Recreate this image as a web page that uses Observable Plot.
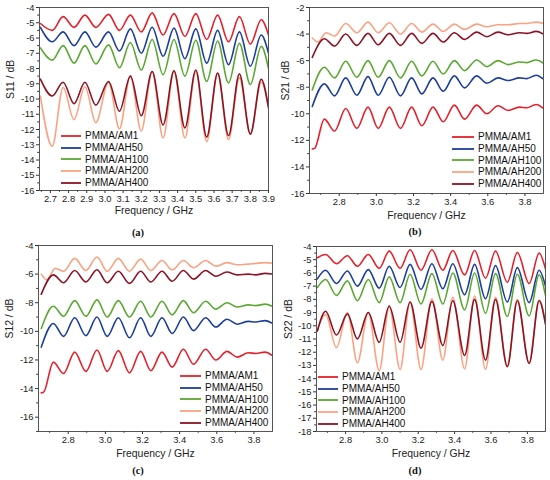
<!DOCTYPE html>
<html><head><meta charset="utf-8">
<script src="https://cdn.jsdelivr.net/npm/d3@7"></script>
<script src="https://cdn.jsdelivr.net/npm/@observablehq/plot@0.6"></script>
<style>
body{margin:0;background:#fff;}
#root{position:relative;width:550px;height:480px;overflow:hidden;font-family:"Liberation Sans",Arial,sans-serif;}
.pan{position:absolute;}
.leg{position:absolute;font-size:10px;color:#111;line-height:11.7px;}
.leg .row{display:flex;align-items:center;height:11.7px;white-space:nowrap;}
.leg svg{margin-right:4px;}
.cap{position:absolute;font-family:"Liberation Serif","DejaVu Serif",serif;font-weight:bold;font-size:10.5px;color:#111;transform:translate(-50%,-50%);}
</style></head>
<body><div id="root"></div>
<script>
// ---- series names & colours ----
const names = ["PMMA/AM1","PMMA/AH50","PMMA/AH100","PMMA/AH200","PMMA/AH400"];
const colors = ["#e5202b","#1d3d9c","#5aa832","#fba282","#8c1324"];

// ---- panel (a) S11 ----
const freqA = [2.645,2.71,2.77,2.83,2.89,2.95,3.02,3.08,3.14,3.2,3.26,3.32,3.38,3.44,3.5,3.56,3.62,3.68,3.74,3.8,3.86,3.9];
const a_AM1   = [-5.05,-5.5,-4.6,-5.3,-4.5,-5.3,-4.45,-5.5,-4.5,-5.6,-4.35,-5.8,-4.4,-5.9,-4.4,-6.1,-4.5,-6.25,-4.6,-6.4,-4.8,-5.8];
const a_AH50  = [-5.3,-6.25,-5.6,-6.5,-5.6,-6.6,-5.6,-6.85,-5.4,-7.0,-5.3,-7.2,-5.35,-7.35,-5.4,-7.65,-5.5,-7.75,-5.6,-7.85,-5.8,-7.0];
const a_AH100 = [-6.65,-7.45,-6.5,-7.65,-6.5,-7.7,-6.45,-7.95,-6.3,-8.1,-6.1,-8.4,-6.1,-8.5,-6.15,-8.85,-6.2,-8.95,-6.35,-9.05,-6.55,-8.0];
const a_AH200 = [-9.8,-13.1,-9.25,-11.35,-9.2,-11.55,-8.9,-11.95,-8.5,-12.1,-8.2,-12.55,-8.2,-12.55,-8.2,-12.8,-8.3,-12.65,-8.6,-12.3,-8.9,-10.5];
const a_AH400 = [-8.7,-9.8,-8.9,-10.3,-8.9,-10.4,-8.85,-10.8,-8.5,-11.1,-8.2,-11.7,-8.15,-11.9,-8.1,-12.5,-8.3,-12.4,-8.35,-12.3,-8.7,-10.6];

// ---- panels (b) S21 and (c) S12 ----
const freqBC = [2.655,2.72,2.775,2.835,2.895,2.955,3.01,3.07,3.13,3.19,3.245,3.305,3.36,3.42,3.475,3.54,3.595,3.655,3.71,3.77,3.81,3.86,3.9];
const freqBC1 = [2.655,2.668,2.72,2.775,2.835,2.895,2.955,3.01,3.07,3.13,3.19,3.245,3.305,3.36,3.42,3.475,3.54,3.595,3.655,3.71,3.77,3.81,3.86,3.9];
const freqBC200 = [2.655,2.685,2.73,2.775,2.835,2.895,2.955,3.01,3.07,3.13,3.19,3.245,3.305,3.36,3.42,3.475,3.54,3.595,3.655,3.71,3.77,3.81,3.86,3.9];
const b_AM1   = [-12.65,-12.6,-10.4,-11.3,-9.6,-11.1,-9.5,-11.1,-9.5,-11.1,-9.5,-10.9,-9.5,-10.6,-9.35,-10.4,-9.35,-10.0,-9.4,-9.75,-9.5,-9.55,-9.3,-9.6];
const b_AH50  = [-9.45,-7.75,-8.65,-7.3,-8.6,-7.2,-8.6,-7.25,-8.65,-7.3,-8.5,-7.3,-8.3,-7.15,-8.05,-7.15,-7.7,-7.3,-7.5,-7.3,-7.35,-7.1,-7.4];
const b_AH100 = [-8.2,-6.5,-7.3,-6.05,-7.25,-6.0,-7.25,-6.0,-7.3,-6.05,-7.15,-6.05,-7.0,-6.0,-6.75,-5.95,-6.45,-6.0,-6.3,-6.1,-6.15,-5.95,-6.2];
const b_AH200 = [-4.3,-4.6,-3.9,-4.15,-3.2,-3.9,-3.1,-3.9,-3.15,-4.0,-3.2,-3.85,-3.25,-3.8,-3.25,-3.65,-3.25,-3.45,-3.3,-3.3,-3.2,-3.2,-3.1,-3.2];
const b_AH400 = [-5.75,-4.35,-4.9,-4.0,-4.85,-3.95,-4.8,-3.95,-4.85,-3.95,-4.7,-3.95,-4.6,-3.9,-4.4,-3.85,-4.2,-3.85,-4.05,-3.9,-3.95,-3.8,-4.0];

const c_AM1   = [-14.3,-14.25,-12.15,-12.95,-11.45,-12.8,-11.3,-12.8,-11.35,-12.9,-11.4,-12.75,-11.45,-12.5,-11.25,-12.3,-11.25,-12.0,-11.4,-11.8,-11.5,-11.55,-11.45,-11.7];
const c_AH50  = [-11.1,-9.45,-10.35,-9.05,-10.3,-9.0,-10.35,-9.05,-10.45,-9.05,-10.35,-9.05,-10.15,-9.0,-9.95,-9.05,-9.7,-9.15,-9.5,-9.3,-9.35,-9.25,-9.45];
const c_AH100 = [-9.8,-8.25,-8.95,-7.85,-8.95,-7.8,-9.0,-7.85,-9.0,-7.9,-9.0,-7.9,-8.85,-7.85,-8.7,-7.9,-8.45,-8.0,-8.3,-8.15,-8.2,-8.1,-8.25];
const c_AH200 = [-6.0,-6.4,-5.6,-5.8,-4.9,-5.75,-4.8,-5.8,-4.9,-5.8,-4.95,-5.75,-5.05,-5.7,-5.05,-5.55,-5.05,-5.45,-5.2,-5.35,-5.3,-5.25,-5.2,-5.25];
const c_AH400 = [-7.4,-6.05,-6.6,-5.75,-6.55,-5.7,-6.6,-5.8,-6.65,-5.8,-6.55,-5.8,-6.5,-5.75,-6.35,-5.75,-6.15,-5.85,-6.05,-6.0,-6.05,-5.95,-6.0];

// ---- panel (d) S22 ----
const freqD = [2.645,2.69,2.75,2.81,2.865,2.925,2.985,3.04,3.1,3.155,3.215,3.275,3.335,3.39,3.455,3.51,3.57,3.625,3.69,3.745,3.81,3.865,3.9];
const d_AM1   = [-4.85,-4.6,-5.3,-4.7,-5.5,-4.6,-5.65,-4.35,-5.65,-4.25,-5.8,-4.25,-5.8,-4.3,-6.15,-4.3,-6.4,-4.35,-6.7,-4.45,-6.8,-4.5,-5.7];
const d_AH50  = [-6.45,-5.8,-6.8,-5.85,-7.0,-5.75,-7.15,-5.5,-7.1,-5.35,-7.25,-5.3,-7.2,-5.3,-7.65,-5.35,-7.95,-5.45,-8.2,-5.6,-8.25,-5.8,-7.0];
const d_AH100 = [-7.1,-6.5,-7.7,-6.6,-8.1,-6.5,-8.25,-6.3,-8.25,-6.1,-8.35,-6.05,-8.35,-6.0,-8.8,-6.0,-9.05,-6.05,-9.3,-6.1,-9.25,-6.15,-7.7];
const d_AH200 = [-10.3,-9.15,-11.65,-9.0,-12.8,-9.0,-13.4,-8.55,-13.3,-8.2,-13.3,-7.95,-12.6,-7.85,-13.25,-7.75,-13.3,-7.85,-13.0,-8.0,-12.8,-8.05,-9.8];
const d_AH400 = [-10.4,-8.9,-10.7,-9.1,-11.0,-9.0,-11.25,-8.5,-11.25,-8.2,-11.7,-8.15,-11.5,-8.1,-12.25,-8.0,-12.6,-8.0,-13.1,-8.1,-12.85,-8.1,-9.9];

// ---- tick labels ----
const xTicksA = [2.7,2.8,2.9,3.0,3.1,3.2,3.3,3.4,3.5,3.6,3.7,3.8,3.9];
const xTicks2 = [2.8,3.0,3.2,3.4,3.6,3.8];
const yTicksA = [-16,-15,-14,-13,-12,-11,-10,-9,-8,-7,-6,-5,-4];
const yTicksB = [-16,-14,-12,-10,-8,-6,-4,-2];
const yTicksC = [-16,-14,-12,-10,-8,-6,-4];
const yTicksD = [-18,-17,-16,-15,-14,-13,-12,-11,-10,-9,-8,-7,-6,-5,-4];

const FONT = '"Liberation Sans",Arial,sans-serif';
const root = document.getElementById("root");

function panel(cfg){
  const marks = [];
  marks.push(Plot.axisX(cfg.xminor,{tickSize:1.8,tickFormat:()=>"",label:null,stroke:"#333"}));
  marks.push(Plot.axisY(cfg.yminor,{tickSize:1.8,tickFormat:()=>"",label:null,stroke:"#333"}));
  marks.push(Plot.axisX(cfg.xticks,{tickSize:3,tickPadding:2,tickFormat:d=>d.toFixed(1),label:null,stroke:"#333",fill:"#222",fontSize:9.4}));
  marks.push(Plot.axisY(cfg.yticks,{tickSize:3,tickPadding:2,tickFormat:d=>String(d),label:null,stroke:"#333",fill:"#222",fontSize:9.4}));
  cfg.series.forEach((s,i)=>{
    const rows = s.f.map((f,j)=>({f, v:s.v[j]}));
    marks.push(Plot.line(rows,{x:"f",y:"v",stroke:colors[i],strokeWidth:1.6,curve:"monotone-x",clip:true}));
  });
  marks.push(Plot.frame({stroke:"#444",strokeWidth:0.9}));
  marks.push(Plot.text(["Frequency / GHz"],{text:d=>d,frameAnchor:"bottom",dy:cfg.xlabDy,fontSize:10.4,fill:"#222",fontFamily:FONT}));
  marks.push(Plot.text([cfg.ylabel],{text:d=>d,frameAnchor:"left",dx:cfg.ylabDx,rotate:-90,fontSize:10.4,fill:"#222",fontFamily:FONT}));
  const svg = Plot.plot({
    width:275,height:220,
    marginLeft:cfg.ml,marginRight:cfg.mr,marginTop:cfg.mt,marginBottom:cfg.mb,
    x:{domain:[2.64,3.9]},
    y:{domain:cfg.ydom},
    style:{fontFamily:FONT,fontSize:"9.4px",background:"white",color:"#222"},
    marks
  });
  const div = document.createElement("div");
  div.className="pan";
  div.style.left=cfg.left+"px"; div.style.top=cfg.top+"px";
  div.appendChild(svg);
  root.appendChild(div);
  // legend
  const leg = document.createElement("div");
  leg.className="leg";
  leg.style.left=cfg.legX+"px"; leg.style.top=(cfg.legY-5.85)+"px";
  names.forEach((n,i)=>{
    const r=document.createElement("div"); r.className="row";
    r.innerHTML=`<svg width="${cfg.legW}" height="6"><line x1="0" x2="${cfg.legW}" y1="3" y2="3" stroke="${colors[i]}" stroke-width="1.8"/></svg><span>${n}</span>`;
    leg.appendChild(r);
  });
  root.appendChild(leg);
  const cap=document.createElement("div"); cap.className="cap";
  cap.style.left=cfg.capX+"px"; cap.style.top=cfg.capY+"px"; cap.textContent=cfg.cap;
  root.appendChild(cap);
}

const halfStep = (arr, st) => arr.map(v=>v+st);

panel({left:0,top:0,ml:39,mr:7,mt:7,mb:30,ydom:[-16,-4],yticks:yTicksA,yminor:halfStep(yTicksA.slice(0,-1),0.5),
  xticks:xTicksA,xminor:halfStep(xTicksA.slice(0,-1),0.05).concat([2.65]),
  series:[{f:freqA,v:a_AM1},{f:freqA,v:a_AH50},{f:freqA,v:a_AH100},{f:freqA,v:a_AH200},{f:freqA,v:a_AH400}],
  ylabel:"S11 / dB",xlabDy:23,ylabDx:-29,legX:61,legY:136,legW:20,cap:"(a)",capX:138,capY:232});

panel({left:275,top:0,ml:34,mr:7,mt:7,mb:27,ydom:[-16,-2],yticks:yTicksB,yminor:halfStep(yTicksB.slice(0,-1),1),
  xticks:xTicks2,xminor:[2.7,2.9,3.1,3.3,3.5,3.7],
  series:[{f:freqBC1,v:b_AM1},{f:freqBC,v:b_AH50},{f:freqBC,v:b_AH100},{f:freqBC200,v:b_AH200},{f:freqBC,v:b_AH400}],
  ylabel:"S21 / dB",xlabDy:25,ylabDx:-24,legX:452,legY:137,legW:22,cap:"(b)",capX:415,capY:231});

panel({left:0,top:240,ml:38,mr:3,mt:5,mb:29,ydom:[-17,-4],yticks:yTicksC,yminor:halfStep(yTicksC,-1),
  xticks:xTicks2,xminor:[2.7,2.9,3.1,3.3,3.5,3.7],
  series:[{f:freqBC1,v:c_AM1},{f:freqBC,v:c_AH50},{f:freqBC,v:c_AH100},{f:freqBC200,v:c_AH200},{f:freqBC,v:c_AH400}],
  ylabel:"S12 / dB",xlabDy:25,ylabDx:-29,legX:180,legY:376,legW:21,cap:"(c)",capX:138,capY:470});

panel({left:275,top:240,ml:41,mr:5,mt:6,mb:29,ydom:[-18,-4],yticks:yTicksD,yminor:halfStep(yTicksD.slice(0,-1),0.5),
  xticks:xTicks2,xminor:[2.7,2.9,3.1,3.3,3.5,3.7],
  series:[{f:freqD,v:d_AM1},{f:freqD,v:d_AH50},{f:freqD,v:d_AH100},{f:freqD,v:d_AH200},{f:freqD,v:d_AH400}],
  ylabel:"S22 / dB",xlabDy:25,ylabDx:-28,legX:318,legY:377,legW:20,cap:"(d)",capX:415,capY:470});
</script></body></html>
